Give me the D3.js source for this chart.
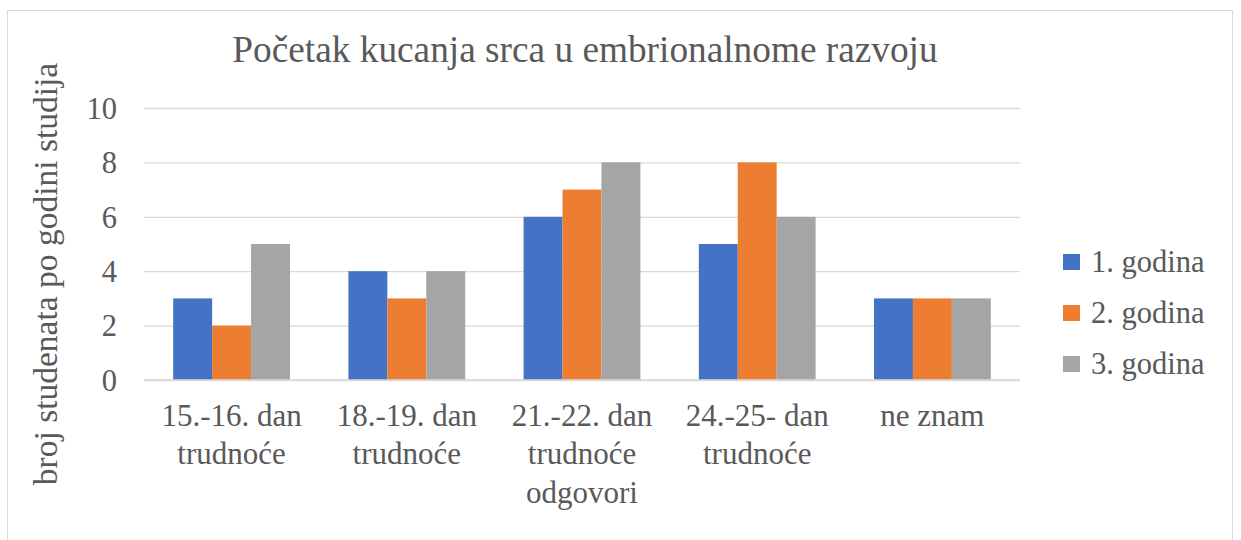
<!DOCTYPE html>
<html><head><meta charset="utf-8">
<script src="https://cdn.jsdelivr.net/npm/d3@7"></script>
</head><body style="margin:0;background:#fff">
<svg id="c" width="1241" height="540" style="display:block"></svg>
<script>
const categories = [["15.-16. dan","trudnoće"],["18.-19. dan","trudnoće"],["21.-22. dan","trudnoće"],["24.-25- dan","trudnoće"],["ne znam"]];
const seriesNames = ["1. godina","2. godina","3. godina"];
const year1 = [3,4,6,5,3];
const year2 = [2,3,7,8,3];
const year3 = [5,4,8,6,3];
const yTicks = [0,2,4,6,8,10];
const colors = ["#4472c4","#ed7d31","#a5a5a5"];
const title = "Početak kucanja srca u embrionalnome razvoju";
const xTitle = "odgovori";
const yTitle = "broj studenata po godini studija";

const FONT = "'Liberation Serif', Tinos, 'Times New Roman', serif";
const TXT = "#595959";
const svg = d3.select("#c");
svg.append("rect").attr("x",7.5).attr("y",10.5).attr("width",1225).attr("height",540).attr("fill","#fff").attr("stroke","#d9d9d9");

const m = {l:144,r:1020,t:108,b:380};
const x0 = d3.scaleBand().domain(d3.range(categories.length)).range([m.l,m.r]).paddingInner(1.5/4.5).paddingOuter(0.75/4.5);
const x1 = d3.scaleBand().domain(d3.range(3)).range([0,x0.bandwidth()]);
const y = d3.scaleLinear().domain([0,10]).range([m.b,m.t]);

const yAxis = svg.append("g").attr("transform",`translate(${m.l},0)`)
  .call(d3.axisLeft(y).tickValues(yTicks).tickSize(-(m.r-m.l)).tickPadding(27));
yAxis.attr("font-family",null).style("font-family",FONT);
yAxis.select(".domain").remove();
yAxis.selectAll(".tick line").attr("stroke","#d9d9d9").attr("stroke-width",1.3);
yAxis.selectAll(".tick text").attr("font-size",30.5).style("font-family",FONT).attr("fill",TXT).attr("dy","0.34em");

const series = [year1,year2,year3];
series.forEach((vals,si)=>{
  svg.append("g").selectAll("rect").data(vals).join("rect")
    .attr("x",(d,i)=>x0(i)+x1(si)).attr("width",x1.bandwidth())
    .attr("y",d=>y(d)).attr("height",d=>y(0)-y(d)).attr("fill",colors[si]);
});
svg.append("line").attr("x1",m.l).attr("x2",m.r).attr("y1",y(0)).attr("y2",y(0)).attr("stroke","#d9d9d9").attr("stroke-width",1.3);

const txt = (sel)=>sel.style("font-family",FONT).attr("fill",TXT);
categories.forEach((lines,i)=>{
  const cx = x0(i)+x0.bandwidth()/2;
  const t = svg.append("text").call(txt).attr("text-anchor","middle").attr("font-size",31).attr("x",cx).attr("y",426);
  lines.forEach((ln,j)=>t.append("tspan").attr("x",cx).attr("dy",j?38:0).text(ln));
});
svg.append("text").call(txt).attr("text-anchor","middle").attr("font-size",31).attr("x",(m.l+m.r)/2).attr("y",503).text(xTitle);
svg.append("text").call(txt).attr("text-anchor","middle").attr("font-size",37.3).attr("x",585).attr("y",62).text(title);
svg.append("text").call(txt).attr("text-anchor","middle").attr("font-size",33.5).attr("transform","translate(57,274) rotate(-90)").text(yTitle);

seriesNames.forEach((n,i)=>{
  svg.append("rect").attr("x",1063).attr("y",254+i*51).attr("width",17).attr("height",16).attr("fill",colors[i]);
  svg.append("text").call(txt).attr("x",1091).attr("y",272+i*51).attr("font-size",30.5).text(n);
});
</script>
</body></html>
